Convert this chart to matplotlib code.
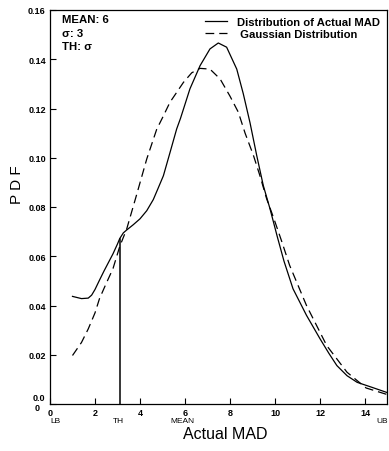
import matplotlib
matplotlib.use("Agg")
import matplotlib.pyplot as plt

plt.rcParams['font.family'] = ['Liberation Sans', 'DejaVu Sans']

# Data
actual_x = [1.0, 1.4, 1.7, 1.85, 2.0, 2.2, 2.4, 2.6, 2.8, 3.0, 3.1, 3.26, 3.4, 3.7, 4.0, 4.3,
            4.59, 4.8, 5.04, 5.33, 5.63, 5.8, 6.22, 6.67, 7.11, 7.48, 7.85, 8.3, 8.59, 8.89,
            9.19, 9.48, 9.78, 10.1, 10.4, 10.8, 11.4, 12.0, 12.4, 12.75, 13.2, 13.65, 14.3,
            15.0]
actual_y = [0.0437, 0.0428, 0.0430, 0.0442, 0.0465, 0.0503, 0.0540, 0.0575, 0.0610, 0.0650,
            0.0672, 0.0695, 0.0706, 0.0728, 0.0752, 0.0785, 0.0830, 0.0875, 0.0927, 0.1020,
            0.1117, 0.1160, 0.1280, 0.1374, 0.1442, 0.1466, 0.1449, 0.1360, 0.1260, 0.1142,
            0.1008, 0.0887, 0.0792, 0.0680, 0.0580, 0.0468, 0.0360, 0.0265, 0.0205, 0.0156,
            0.0115, 0.0088, 0.0068, 0.0046]

gauss_x = [1.0, 1.4, 1.7, 2.0, 2.2, 2.5, 2.8, 3.1, 3.41, 3.85, 4.3, 4.74, 5.04, 5.33, 5.93,
           6.3, 6.67, 7.11, 7.56, 8.0, 8.37, 8.67, 9.04, 9.33, 9.63, 9.93, 10.3, 10.65, 11.4,
           12.3, 13.2, 14.05, 15.0]
gauss_y = [0.0197, 0.0250, 0.0305, 0.0370, 0.0428, 0.0490, 0.0550, 0.0640, 0.0711, 0.0850,
           0.0995, 0.1115, 0.1170, 0.1225, 0.1306, 0.1345, 0.1363, 0.1360, 0.1320, 0.1250,
           0.1185, 0.1100, 0.1010, 0.0927, 0.0833, 0.0758, 0.0660, 0.0563, 0.0400, 0.0237,
           0.0129, 0.0065, 0.0038]

th_x = 3.1
th_y = 0.0672

x_ticks = [0, 2, 4, 6, 8, 10, 12, 14]
y_ticks = [0.0, 0.02, 0.04, 0.06, 0.08, 0.10, 0.12, 0.14, 0.16]
y_tick_labels = ['', '0.02', '0.04', '0.06', '0.08', '0.10', '0.12', '0.14', '0.16']
marker_labels = [(0.25, 'LB', 'center'), (3.05, 'TH', 'center'), (5.9, 'MEAN', 'center'),
                 (15.04, 'UB', 'right')]

fig = plt.figure(figsize=(3.89, 4.52), dpi=100)
ax = fig.add_axes([50/389, 47/452, 337.5/389, 394/452])

ax.plot(actual_x, actual_y, color='black', lw=0.9, label='Distribution of Actual MAD')
ax.plot(gauss_x, gauss_y, color='black', lw=0.9, dashes=(7, 4), label=' Gaussian Distribution')
ax.plot([th_x, th_x], [0, th_y], color='black', lw=1.1)

ax.set_xlim(0, 15)
ax.set_ylim(0, 0.16)
ax.set_xticks(x_ticks)
ax.set_xticklabels([str(t) for t in x_ticks])
ax.set_yticks(y_ticks)
ax.set_yticklabels(y_tick_labels)
ax.tick_params(direction='in', length=4, width=0.8, labelsize=6.5, pad=3)
for lab in ax.get_xticklabels() + ax.get_yticklabels():
    lab.set_fontweight('bold')
for s in ax.spines.values():
    s.set_linewidth(0.9)

# zero labels at the corner
ax.text(-0.22, 0.0025, '0.0', ha='right', va='center', fontsize=6.5, fontweight='bold', clip_on=False)
ax.text(-0.44, -0.0013, '0', ha='right', va='center', fontsize=6.5, fontweight='bold', clip_on=False)

for xv, txt, ha in marker_labels:
    ax.text(xv, -0.0052, txt, ha=ha, va='top', fontsize=6, clip_on=False)

ax.text(7.8, -0.0088, 'Actual MAD', ha='center', va='top', fontsize=11.5, clip_on=False)
fig.text(17/389, 1 - 185/452, 'P D F', rotation=90, ha='center', va='center', fontsize=11)

ax.text(0.035, 0.99, 'MEAN: 6\nσ: 3\nTH: σ', transform=ax.transAxes, ha='left', va='top',
        fontsize=8.2, fontweight='bold', linespacing=1.45)

leg = ax.legend(loc='upper right', bbox_to_anchor=(1.0, 1.0), frameon=False, fontsize=8.1,
                handlelength=2.0, handletextpad=0.9, labelspacing=0.15, borderaxespad=0.25)
for t in leg.get_texts():
    t.set_fontweight('bold')

fig.savefig('out.png', dpi=100)
